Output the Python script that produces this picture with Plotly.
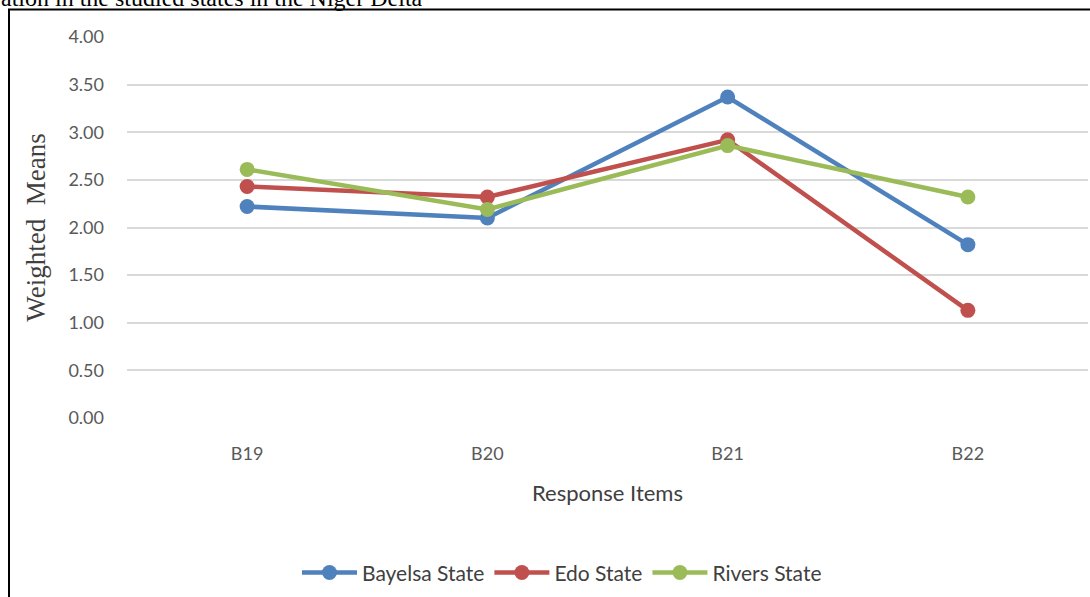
import plotly.graph_objects as go

categories = ["B19", "B20", "B21", "B22"]
bayelsa = [2.22, 2.10, 3.37, 1.82]
edo = [2.43, 2.32, 2.92, 1.13]
rivers = [2.61, 2.19, 2.86, 2.32]
y_ticks = [0, 0.5, 1, 1.5, 2, 2.5, 3, 3.5, 4]
y_tick_labels = ["%.2f" % v for v in y_ticks]

series = [
    ("Bayelsa State", bayelsa, "#4F81BD"),
    ("Edo State", edo, "#C0504D"),
    ("Rivers State", rivers, "#9BBB59"),
]

fig = go.Figure()
for name, vals, color in series:
    fig.add_trace(go.Scatter(
        x=categories, y=vals, name=name, mode="lines+markers",
        line=dict(color=color, width=4.5),
        marker=dict(color=color, size=15),
    ))

W, H = 1090, 597
L, R, T, B = 127, 2, 36.5, 179
pw, ph = W - L - R, H - T - B

def px_x(p):
    return (p - L) / pw

def px_y(p):
    return (H - B - p) / ph

tick_font = dict(family="Lato, Calibri, sans-serif", size=18, color="#595959")

fig.update_layout(
    width=W, height=H,
    margin=dict(l=L, r=R, t=T, b=B, autoexpand=False),
    paper_bgcolor="white", plot_bgcolor="white",
    showlegend=True,
    legend=dict(
        orientation="h", x=px_x(562), xanchor="center",
        y=px_y(573), yanchor="middle",
        font=dict(family="Lato, Calibri, sans-serif", size=21, color="#404040"),
        itemwidth=55, tracegroupgap=0,
        bgcolor="rgba(0,0,0,0)",
    ),
    xaxis=dict(
        type="category", range=[-0.5, 3.5],
        showgrid=False, zeroline=False, showline=False,
        ticks="", tickfont=tick_font, ticklabelstandoff=23,
        title=dict(text="Response Items", standoff=22,
                   font=dict(family="Lato, Calibri, sans-serif", size=22, color="#404040")),
        automargin=False,
    ),
    yaxis=dict(
        range=[0, 4], tickvals=y_ticks, ticktext=y_tick_labels,
        showgrid=True, gridcolor="#D9D9D9", gridwidth=1.5,
        zeroline=False, showline=False, ticks="",
        tickfont=tick_font, ticklabelstandoff=22,
        title=dict(text="Weighted  Means", standoff=14,
                   font=dict(family="Liberation Serif, Times New Roman, serif", size=27, color="#404040")),
        automargin=False,
    ),
    shapes=[dict(
        type="rect", xref="paper", yref="paper",
        x0=px_x(9), x1=px_x(1100), y0=px_y(620), y1=px_y(9),
        line=dict(color="black", width=2), fillcolor="rgba(0,0,0,0)", layer="below",
    )],
    annotations=[dict(
        text="ation in the studied states in the Niger Delta",
        xref="paper", yref="paper", x=px_x(-1), y=px_y(12),
        xanchor="left", yanchor="bottom", showarrow=False,
        font=dict(family="Liberation Serif, Times New Roman, serif", size=24, color="black"),
    )],
)

fig.write_html("out.html")
